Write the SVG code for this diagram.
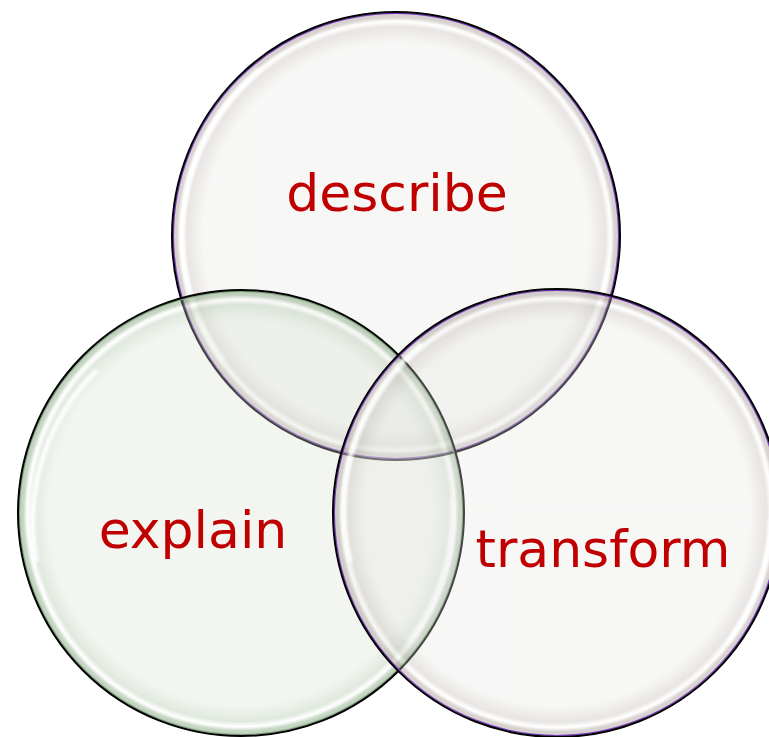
<svg xmlns="http://www.w3.org/2000/svg" width="769" height="737" viewBox="0 0 769 737">
  <style>
    .lbl { font-family: "DejaVu Sans", Verdana, sans-serif; font-size: 52px; fill: #c00000; text-anchor: middle; }
    .outer { fill: none; stroke: #000000; stroke-width: 2; }
    .innerP { fill: none; stroke: #7a3cc8; stroke-width: 1.3; }
    .innerG { fill: none; stroke: #7f9f7f; stroke-width: 1.2; }
    .hl { fill: none; stroke: #ffffff; stroke-width: 5; stroke-linecap: round; filter: url(#soft); }
  </style>
  <defs>
    <filter id="soft" x="-10%" y="-10%" width="120%" height="120%">
      <feGaussianBlur stdDeviation="1.6"/>
    </filter>
    <radialGradient id="gGray" cx="0.5" cy="0.5" r="0.5">
      <stop offset="0" stop-color="#e4e4e1" stop-opacity="0.3"/>
      <stop offset="0.86" stop-color="#e4e4e1" stop-opacity="0.3"/>
      <stop offset="0.935" stop-color="#bdb5af" stop-opacity="0.35"/>
      <stop offset="0.958" stop-color="#ffffff" stop-opacity="0.3"/>
      <stop offset="0.975" stop-color="#a0938c" stop-opacity="0.4"/>
      <stop offset="1" stop-color="#9f928b" stop-opacity="0.45"/>
    </radialGradient>
    <radialGradient id="gGreen" cx="0.5" cy="0.5" r="0.5">
      <stop offset="0" stop-color="#d7ded0" stop-opacity="0.3"/>
      <stop offset="0.86" stop-color="#d7ded0" stop-opacity="0.3"/>
      <stop offset="0.935" stop-color="#a6c0a1" stop-opacity="0.35"/>
      <stop offset="0.958" stop-color="#ffffff" stop-opacity="0.3"/>
      <stop offset="0.975" stop-color="#78a073" stop-opacity="0.4"/>
      <stop offset="1" stop-color="#5b8552" stop-opacity="0.45"/>
    </radialGradient>
  </defs>

  <g id="describe">
    <circle cx="396" cy="236" r="224" fill="url(#gGray)"/>
    <path class="hl" d="M 258 71 A 214 214 0 0 0 222 360" opacity="0.95"/>
    <path class="hl" d="M 608 270 A 214 214 0 0 1 560 376" opacity="0.7"/>
    <circle class="innerP" cx="396" cy="236" r="222.6"/>
    <circle class="outer" cx="396" cy="236" r="224"/>
    <text class="lbl" x="397" y="211">describe</text>
  </g>

  <g id="explain">
    <circle cx="241" cy="513" r="223" fill="url(#gGreen)"/>
    <path class="hl" d="M 95 372 A 213 213 0 0 0 36 560" opacity="0.95"/>
    <path class="hl" d="M 452 500 A 213 213 0 0 1 410 640" opacity="0.8"/>
    <circle class="innerG" cx="241" cy="513" r="221.6"/>
    <circle class="outer" cx="241" cy="513" r="223"/>
    <text class="lbl" x="193" y="548">explain</text>
  </g>

  <g id="transform">
    <circle cx="557" cy="513" r="224" fill="url(#gGray)"/>
    <path class="hl" d="M 420 345 A 214 214 0 0 0 350 560" opacity="0.85"/>
    <path class="hl" d="M 771 520 A 214 214 0 0 1 730 640" opacity="0.85"/>
    <circle class="innerP" cx="557" cy="513" r="222.6"/>
    <circle class="outer" cx="557" cy="513" r="224"/>
    <text class="lbl" x="603" y="567">transform</text>
  </g>

  <g id="connectors"></g>
</svg>
